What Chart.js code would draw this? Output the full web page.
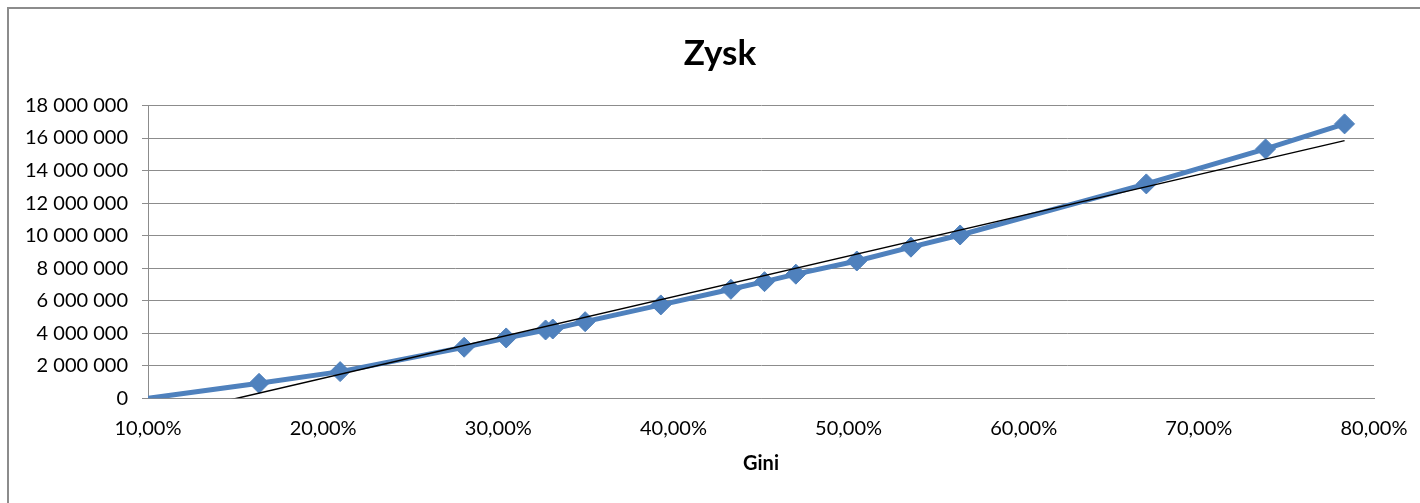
<!DOCTYPE html>
<html>
<head>
<meta charset="utf-8">
<script src="https://cdn.jsdelivr.net/npm/chart.js@4.4.1/dist/chart.umd.min.js"></script>
<style>
  html, body { margin: 0; padding: 0; background: #fff; }
  #wrap { width: 1420px; height: 503px; position: relative; }
</style>
</head>
<body>
<div id="wrap"><canvas id="c" width="1420" height="503"></canvas></div>
<script>
// Data
const giniValues = [0.10, 0.1634, 0.2097, 0.2805, 0.3045, 0.3270, 0.3311, 0.3496, 0.3928, 0.4328, 0.4520, 0.4699, 0.5047, 0.5356, 0.5637, 0.6700, 0.7381, 0.7832];
const zyskValues = [0, 920000, 1640000, 3140000, 3710000, 4200000, 4260000, 4710000, 5740000, 6700000, 7170000, 7630000, 8440000, 9290000, 10040000, 13180000, 15330000, 16870000];
// Linear trendline endpoints
const trendX = [0.10, 0.7832];
const trendY = [-1270000, 15840000];
// Axis settings
const xTickMin = 0.10, xTickMax = 0.80, xTickStep = 0.10;
const yTickMin = 0, yTickMax = 18000000, yTickStep = 2000000;
const chartTitle = 'Zysk';
const xAxisTitle = 'Gini';

const mainPoints = giniValues.map((x, i) => ({ x: x, y: zyskValues[i] }));
const trendPoints = trendX.map((x, i) => ({ x: x, y: trendY[i] }));

function fmtY(v) {
  return String(Math.round(v)).replace(/\B(?=(\d{3})+(?!\d))/g, ' ');
}
function fmtX(v) {
  return (v * 100).toFixed(2).replace('.', ',') + '%';
}

const frame = {
  id: 'frame',
  beforeDraw(chart) {
    const ctx = chart.ctx;
    ctx.save();
    ctx.fillStyle = '#fff';
    ctx.fillRect(0, 0, chart.width, chart.height);
    ctx.strokeStyle = '#8c8c8c';
    ctx.lineWidth = 2;
    ctx.beginPath();
    ctx.moveTo(8, 503);
    ctx.lineTo(8, 8);
    ctx.lineTo(1420, 8);
    ctx.stroke();
    ctx.restore();
  }
};

Chart.defaults.font.family = 'Lato, "Open Sans", sans-serif';
Chart.defaults.color = '#000';

new Chart(document.getElementById('c'), {
  type: 'scatter',
  data: {
    datasets: [
      {
        label: 'Zysk',
        data: mainPoints,
        showLine: true,
        borderColor: '#4F81BD',
        backgroundColor: '#4F81BD',
        borderWidth: 5,
        pointStyle: 'rectRot',
        pointRadius: (ctx) => ctx.dataIndex === 0 ? 0 : 10,
        pointBorderWidth: 1,
        pointBorderColor: '#4F81BD',
        pointBackgroundColor: '#4F81BD',
        order: 1
      },
      {
        label: 'Trend',
        data: trendPoints,
        showLine: true,
        borderColor: '#000',
        borderWidth: 1.5,
        pointRadius: 0,
        order: 0
      }
    ]
  },
  options: {
    responsive: false,
    animation: false,
    devicePixelRatio: 1,
    layout: { padding: { top: 0, left: 20, right: 0, bottom: 0 } },
    plugins: {
      legend: { display: false },
      tooltip: { enabled: false },
      title: {
        display: true,
        text: chartTitle,
        font: { size: 35, weight: 'bold' },
        lineHeight: 1.2,
        padding: { top: 33, bottom: 30.5 }
      }
    },
    scales: {
      x: {
        type: 'linear',
        min: xTickMin,
        max: xTickMax,
        afterFit: (s) => { s.height = 104.7; },
        afterBuildTicks: (s) => {
          const t = [];
          for (let v = xTickMin; v <= xTickMax + 1e-9; v += xTickStep) t.push({ value: Math.round(v * 100) / 100 });
          s.ticks = t;
        },
        grid: { display: false },
        border: { display: true, color: '#8c8c8c', width: 1 },
        ticks: {
          padding: 10,
          font: { size: 20 },
          maxRotation: 0,
          autoSkip: false,
          callback: (v) => fmtX(v)
        },
        title: {
          display: true,
          text: xAxisTitle,
          font: { size: 20, weight: 'bold' },
          padding: { top: 27, bottom: 27 }
        }
      },
      y: {
        type: 'linear',
        min: yTickMin,
        max: yTickMax,
        afterFit: (s) => { s.width = 128; },
        grid: { color: '#8c8c8c', lineWidth: 1, tickLength: 6, drawTicks: true },
        border: { display: true, color: '#8c8c8c', width: 1 },
        ticks: {
          stepSize: yTickStep,
          padding: 14,
          font: { size: 20 },
          callback: (v) => fmtY(v)
        }
      },
      yRight: {
        type: 'linear',
        position: 'right',
        min: yTickMin,
        max: yTickMax,
        afterFit: (s) => { s.width = 46; },
        grid: { display: false, drawOnChartArea: false },
        border: { display: false },
        ticks: { display: false }
      }
    }
  },
  plugins: [frame]
});
</script>
</body>
</html>
